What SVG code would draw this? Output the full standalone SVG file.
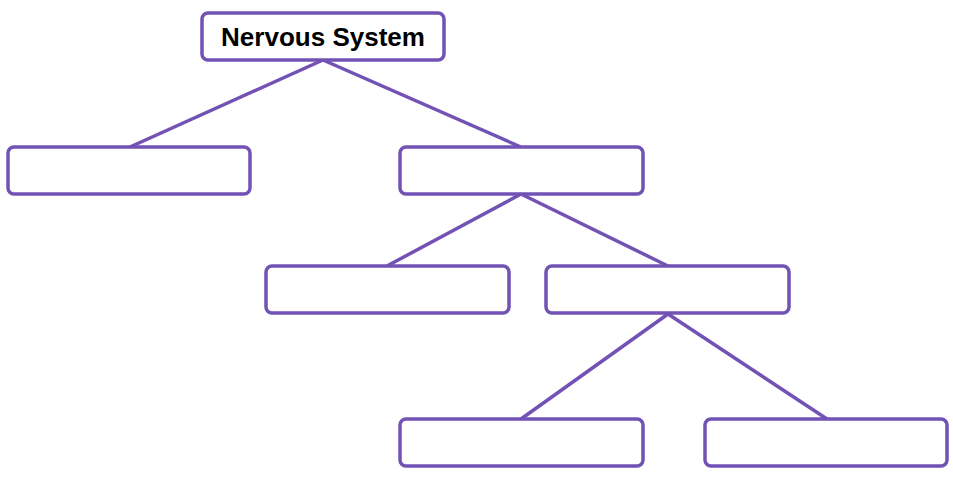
<svg xmlns="http://www.w3.org/2000/svg" width="953" height="482" viewBox="0 0 953 482">
<style>
.box{fill:#fff;stroke:#7352b5;stroke-width:3.5}
.ln{stroke:#7352b5;stroke-width:3.5;fill:none}
.t{font-family:"Liberation Sans",Arial,sans-serif;font-weight:bold;font-size:25px;fill:#000;text-anchor:middle}
</style>
<rect width="953" height="482" fill="#fff"/>
<g id="connectors">
<path class="ln" d="M323,60 L130,147 M323,60 L521,147 M521,194 L387,266 M521,194 L668,266 M668,314 L521,419 M668,314 L827,419"/>
</g>
<g id="n0"><rect class="box" x="202" y="13" width="242" height="47" rx="6"/><text class="t" x="323" y="46" textLength="204" lengthAdjust="spacingAndGlyphs">Nervous System</text></g>
<g id="n1"><rect class="box" x="8" y="147" width="242" height="47" rx="6"/></g>
<g id="n2"><rect class="box" x="400" y="147" width="243" height="47" rx="6"/></g>
<g id="n3"><rect class="box" x="266" y="266" width="243" height="47" rx="6"/></g>
<g id="n4"><rect class="box" x="546" y="266" width="243" height="47" rx="6"/></g>
<g id="n5"><rect class="box" x="400" y="419" width="243" height="47" rx="6"/></g>
<g id="n6"><rect class="box" x="705" y="419" width="242" height="47" rx="6"/></g>
</svg>
